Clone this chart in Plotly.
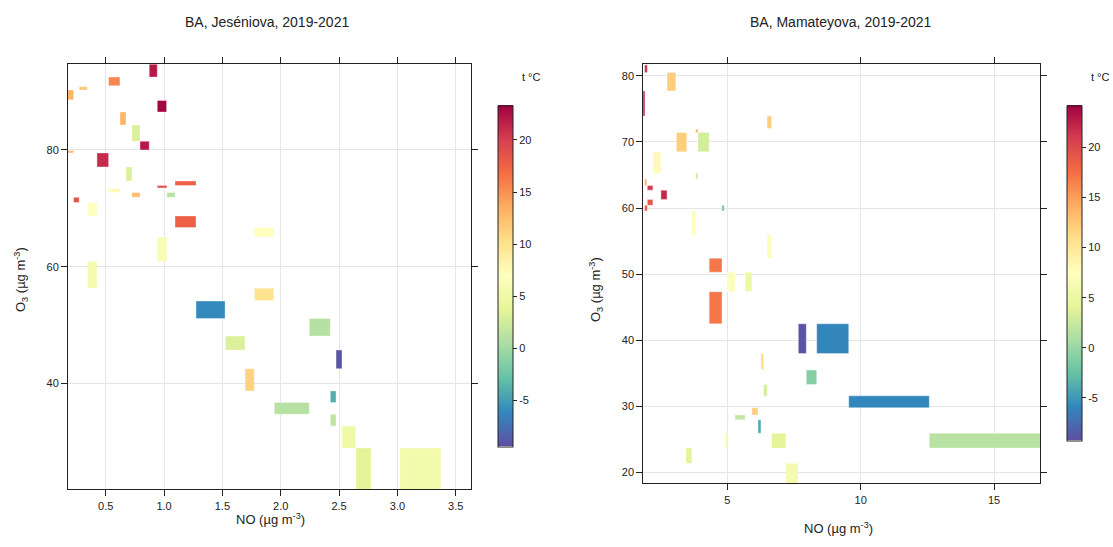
import plotly.graph_objects as go
import plotly.colors as pc

# ---- Jeséniova: NO / O3 bins (x0, x1, y0, y1) and mean temperature ----
jes_x0 = [0.873, 0.525, 0.273, 0.13, 0.942, 0.622, 0.725, 0.794, 0.13, 0.425,
          0.674, 1.094, 0.942, 0.525, 0.725, 1.025, 0.225, 0.345, 1.094, 1.774,
          0.942, 0.345, 1.774, 1.274, 2.245, 1.525, 2.474, 1.694, 2.425, 1.945,
          2.425, 2.525, 2.645, 3.022]
jes_x1 = [0.942, 0.622, 0.342, 0.225, 1.022, 0.674, 0.794, 0.873, 0.225, 0.525,
          0.725, 1.274, 1.025, 0.622, 0.794, 1.094, 0.273, 0.425, 1.274, 1.940,
          1.025, 0.425, 1.940, 1.523, 2.425, 1.694, 2.525, 1.774, 2.474, 2.245,
          2.474, 2.642, 2.774, 3.374]
jes_y0 = [92.5, 91.0, 90.3, 88.6, 86.5, 84.3, 81.5, 80.0, 79.5, 77.1,
          74.7, 73.9, 73.5, 72.7, 71.9, 71.9, 71.0, 68.7, 66.7, 65.1,
          60.9, 56.3, 54.2, 51.1, 48.1, 45.7, 42.5, 38.7, 36.7, 34.7,
          32.7, 28.9, 21.0, 21.0]
jes_y1 = [94.7, 92.5, 90.85, 90.3, 88.5, 86.5, 84.3, 81.5, 79.9, 79.5,
          77.1, 74.7, 73.9, 73.4, 72.7, 72.7, 71.9, 70.9, 68.7, 66.7,
          65.1, 60.9, 56.3, 54.1, 51.1, 48.1, 45.7, 42.5, 38.7, 36.7,
          34.7, 32.7, 28.9, 28.9]
jes_t = [22, 15.5, 12, 13, 23, 13, 3, 22, 13, 21,
         3, 17.5, 19, 7.5, 12.5, 1, 18.5, 7, 17.5, 7,
         6, 5.5, 10, -6, 1, 3, -9, 11, -4, 1,
         1.5, 5, 3.5, 5.3]

# ---- Mamateyova: NO / O3 bins and mean temperature ----
mam_x0 = [1.90, 2.74, 1.75, 6.49, 3.81, 3.09, 3.90, 2.21, 3.81, 1.90,
          2.00, 2.51, 2.00, 1.90, 4.79, 3.67, 6.49, 4.32, 4.99, 5.67,
          4.32, 7.66, 8.35, 6.26, 7.96, 6.36, 9.55, 5.92, 5.29, 6.15,
          4.89, 6.66, 12.57, 3.45, 7.19]
mam_x1 = [2.00, 3.07, 1.91, 6.66, 3.90, 3.48, 4.32, 2.51, 3.90, 1.98,
          2.21, 2.74, 2.21, 2.00, 4.89, 3.81, 6.66, 4.80, 5.29, 5.92,
          4.80, 7.96, 9.55, 6.36, 8.35, 6.49, 12.57, 6.15, 5.67, 6.26,
          4.99, 7.19, 17.20, 3.67, 7.65]
mam_y0 = [80.5, 77.7, 73.9, 72.0, 71.4, 68.5, 68.5, 65.3, 64.4, 63.4,
          62.7, 61.3, 60.4, 59.55, 59.55, 55.9, 52.4, 50.3, 47.35, 47.35,
          42.5, 38.0, 38.0, 35.6, 33.3, 31.55, 29.8, 28.7, 28.0, 25.95,
          23.7, 23.7, 23.7, 21.4, 18.0]
mam_y1 = [81.6, 80.5, 77.7, 73.9, 71.9, 71.4, 71.4, 68.5, 65.3, 64.4,
          63.4, 62.7, 61.3, 60.4, 60.4, 59.55, 55.9, 52.4, 50.3, 50.3,
          47.35, 42.5, 42.5, 38.0, 35.5, 33.3, 31.6, 29.8, 28.7, 28.0,
          25.95, 25.95, 25.95, 23.7, 21.4]
mam_t = [22, 12, 23, 12, 14, 12, 3, 8, 3, 14,
         21, 22, 19, 19, -1.5, 7, 7, 17, 7, 5,
         17, -9, -6, 11, -1, 3, -6, 12, 2, -4,
         7, 4, 1.5, 4, 6]

titles = ["BA, Jeséniova, 2019-2021", "BA, Mamateyova, 2019-2021"]
x_title = "NO (µg m<sup>-3</sup>)"
y_title = "O<sub>3</sub> (µg m<sup>-3</sup>)"
cbar_ticks = [-5, 0, 5, 10, 15, 20]
cbar_labels = ["-5", "0", "5", "10", "15", "20"]

W, H = 1113, 547
FONT = "Arial, Liberation Sans, sans-serif"
spectral = pc.diverging.Spectral[::-1]


def bins(x0, x1, y0, y1):
    xc = [(a + b) / 2 for a, b in zip(x0, x1)]
    w = [b - a for a, b in zip(x0, x1)]
    h = [b - a for a, b in zip(y0, y1)]
    return xc, w, y0, h


fig = go.Figure()
for (x0, x1, y0, y1, t, xa, ya, ca) in [
    (jes_x0, jes_x1, jes_y0, jes_y1, jes_t, "x", "y", "coloraxis"),
    (mam_x0, mam_x1, mam_y0, mam_y1, mam_t, "x2", "y2", "coloraxis2"),
]:
    xc, w, base, h = bins(x0, x1, y0, y1)
    fig.add_trace(go.Bar(
        x=xc, y=h, base=base, width=w, xaxis=xa, yaxis=ya,
        marker=dict(color=t, coloraxis=ca,
                    line=dict(color="rgba(255,255,255,0.45)", width=0.8)),
        hoverinfo="skip", showlegend=False,
    ))

axis_common = dict(
    showline=True, linecolor="#222", linewidth=1, mirror="ticks",
    ticks="outside", ticklen=6, tickcolor="#222",
    showgrid=True, gridcolor="#E6E6E6", gridwidth=1, zeroline=False,
    tickfont=dict(family=FONT, size=11, color="#222"),
)


def px_x(p):
    return p / W


def px_y(p):
    return 1 - p / H


cbar_common = dict(
    thickness=15, thicknessmode="pixels", lenmode="pixels",
    xanchor="left", yanchor="middle", xpad=0, ypad=0,
    outlinecolor="#222", outlinewidth=1,
    ticks="outside", ticklen=4, tickcolor="#222",
    tickvals=cbar_ticks, ticktext=cbar_labels,
    tickfont=dict(family=FONT, size=11, color="#222"),
)

fig.update_layout(
    width=W, height=H,
    margin=dict(l=0, r=0, t=0, b=0),
    paper_bgcolor="white", plot_bgcolor="white",
    barmode="overlay",
    font=dict(family=FONT, color="#222"),
    xaxis=dict(domain=[px_x(68), px_x(470.7)], range=[0.177, 3.628],
               tickvals=[0.5, 1.0, 1.5, 2.0, 2.5, 3.0, 3.5], tickformat=".1f",
               anchor="y", **axis_common),
    yaxis=dict(domain=[px_y(489.3), px_y(64)], range=[21.83, 94.74],
               tickvals=[40, 60, 80], anchor="x", **axis_common),
    xaxis2=dict(domain=[px_x(643.3), px_x(1040)], range=[1.85, 16.72],
                tickvals=[5, 10, 15], anchor="y2", **axis_common),
    yaxis2=dict(domain=[px_y(483.3), px_y(64)], range=[18.38, 81.77],
                tickvals=[20, 30, 40, 50, 60, 70, 80], anchor="x2", **axis_common),
    coloraxis=dict(colorscale=spectral, cmin=-9.4, cmax=23.3,
                   colorbar=dict(x=px_x(497.7), y=px_y(276), len=341.4,
                                 **cbar_common)),
    coloraxis2=dict(colorscale=spectral, cmin=-9.24, cmax=24.17,
                    colorbar=dict(x=px_x(1067), y=px_y(273), len=335.4,
                                  **cbar_common)),
)

ann = []
# panel titles
for txt, cx in zip(titles, [267, 841]):
    ann.append(dict(text=txt, x=px_x(cx), y=px_y(22), xref="paper", yref="paper",
                    showarrow=False, xanchor="center", yanchor="middle",
                    font=dict(family=FONT, size=14, color="#222")))
# x-axis titles
for cx, cy in [(270, 519), (838, 528)]:
    ann.append(dict(text=x_title, x=px_x(cx), y=px_y(cy), xref="paper", yref="paper",
                    showarrow=False, xanchor="center", yanchor="middle",
                    font=dict(family=FONT, size=13, color="#222")))
# y-axis titles
for cx, cy in [(21, 280), (596, 290)]:
    ann.append(dict(text=y_title, x=px_x(cx), y=px_y(cy), xref="paper", yref="paper",
                    showarrow=False, xanchor="center", yanchor="middle", textangle=-90,
                    font=dict(family=FONT, size=13, color="#222")))
# colour-bar titles
for cx in [531, 1100]:
    ann.append(dict(text="t °C", x=px_x(cx), y=px_y(77), xref="paper", yref="paper",
                    showarrow=False, xanchor="center", yanchor="middle",
                    font=dict(family=FONT, size=11, color="#222")))
fig.update_layout(annotations=ann)

fig.write_html("out.html")
